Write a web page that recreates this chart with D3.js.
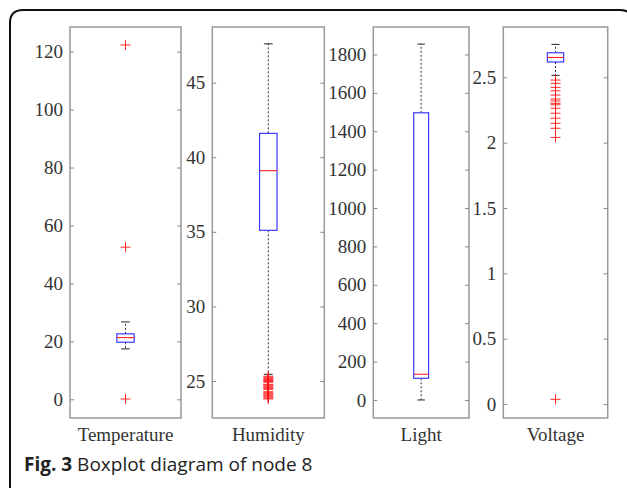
<!DOCTYPE html>
<html><head><meta charset="utf-8">
<script src="https://cdn.jsdelivr.net/npm/d3@7"></script>
<style>
html,body{margin:0;padding:0;background:#fff;}
svg{display:block;}
</style></head>
<body>
<script>
// ---- data ----
const categories = ["Temperature", "Humidity", "Light", "Voltage"];
const whiskerLow  = [17.4, 25.45, 0, 2.515];
const quartile1   = [19.7, 35.1, 113, 2.617];
const medians     = [21.3, 39.1, 134, 2.652];
const quartile3   = [22.6, 41.6, 1496, 2.688];
const whiskerHigh = [26.7, 47.6, 1854, 2.752];
const outliersTemperature = [122.3, 52.5, 0.1];
const outliersHumidity = [25.32, 25.25, 25.18, 25.11, 25.04, 24.97, 24.92,
  24.78, 24.72, 24.65, 24.58, 24.51, 24.44,
  24.28, 24.21, 24.14, 24.07, 24.0, 23.93, 23.86, 23.8];
const outliersLight = [];
const outliersVoltage = [2.479, 2.454, 2.423, 2.397, 2.364, 2.334, 2.319, 2.301,
  2.29, 2.263, 2.225, 2.187, 2.148, 2.110, 2.040, 0.036];
const outliers = [outliersTemperature, outliersHumidity, outliersLight, outliersVoltage];
const yDomains = [[-6.45, 128.5], [22.52, 48.73], [-94, 1943], [-0.107, 2.885]];
const tickLabels = [
  [0, 20, 40, 60, 80, 100, 120],
  [25, 30, 35, 40, 45],
  [0, 200, 400, 600, 800, 1000, 1200, 1400, 1600, 1800],
  [0, 0.5, 1, 1.5, 2, 2.5]
];
const caption = ["Fig. 3", " Boxplot diagram of node 8"];

// ---- layout ----
const W = 627, H = 488;
const panelX = [[70, 181], [212.3, 324.3], [373.3, 469], [503.3, 607.7]];
const panelTop = 27, panelBottom = 418;

const svg = d3.select("body").append("svg").attr("width", W).attr("height", H);

// outer frame (rounded)
svg.append("path")
  .attr("d", "M10,490 V23 Q10,10 23,10 H620 Q633,10 633,23")
  .attr("fill", "none").attr("stroke", "#111").attr("stroke-width", 2);

categories.forEach((cat, i) => {
  const [x0, x1] = panelX[i];
  const y = d3.scaleLinear().domain(yDomains[i]).range([panelBottom, panelTop]);
  const g = svg.append("g");

  // panel frame
  g.append("rect").attr("x", x0).attr("y", panelTop)
    .attr("width", x1 - x0).attr("height", panelBottom - panelTop)
    .attr("fill", "#fff").attr("stroke", "#999").attr("stroke-width", 1.5);

  const fmt = d => String(d);
  const left = g.append("g").attr("transform", `translate(${x0},0)`)
    .call(d3.axisLeft(y).tickValues(tickLabels[i]).tickFormat(fmt).tickSize(-4).tickPadding(7).tickSizeOuter(0));
  const right = g.append("g").attr("transform", `translate(${x1},0)`)
    .call(d3.axisRight(y).tickValues(tickLabels[i]).tickFormat("").tickSize(-4).tickSizeOuter(0));
  [left, right].forEach(a => {
    a.select(".domain").remove();
    a.selectAll(".tick line").attr("stroke", "#888").attr("stroke-width", 1);
  });
  left.selectAll(".tick text")
    .attr("font-family", "'Liberation Serif', 'Times New Roman', serif")
    .attr("font-size", 19).attr("fill", "#333");

  const cx = (x0 + x1) / 2;
  const bw = (x1 - x0) * 0.156;
  const cw = bw / 2;

  // whiskers (dotted)
  g.append("line").attr("x1", cx).attr("x2", cx)
    .attr("y1", y(quartile3[i])).attr("y2", y(whiskerHigh[i]))
    .attr("stroke", "#333").attr("stroke-width", 1).attr("stroke-dasharray", "2,2");
  g.append("line").attr("x1", cx).attr("x2", cx)
    .attr("y1", y(quartile1[i])).attr("y2", y(whiskerLow[i]))
    .attr("stroke", "#333").attr("stroke-width", 1).attr("stroke-dasharray", "2,2");
  // caps
  [whiskerHigh[i], whiskerLow[i]].forEach(v => {
    g.append("line").attr("x1", cx - cw / 2).attr("x2", cx + cw / 2)
      .attr("y1", y(v)).attr("y2", y(v)).attr("stroke", "#222").attr("stroke-width", 1);
  });
  // box
  g.append("rect").attr("x", cx - bw / 2).attr("y", y(quartile3[i]))
    .attr("width", bw).attr("height", y(quartile1[i]) - y(quartile3[i]))
    .attr("fill", "none").attr("stroke", "#3a3aff").attr("stroke-width", 1.2);
  // median
  g.append("line").attr("x1", cx - bw / 2).attr("x2", cx + bw / 2)
    .attr("y1", y(medians[i])).attr("y2", y(medians[i]))
    .attr("stroke", "#ff2020").attr("stroke-width", 1.1);
  // outliers
  const s = 5;
  g.selectAll("path.out").data(outliers[i]).enter().append("path")
    .attr("class", "out")
    .attr("d", d => `M${cx - s},${y(d)}H${cx + s}M${cx},${y(d) - s}V${y(d) + s}`)
    .attr("stroke", "#ff1010").attr("stroke-width", 0.9).attr("fill", "none");

  // x label
  g.append("text").attr("x", cx).attr("y", 441).attr("text-anchor", "middle")
    .attr("font-family", "'Liberation Serif', 'Times New Roman', serif")
    .attr("font-size", 19).attr("fill", "#333").text(cat);
});

// caption
const cap = svg.append("text").attr("x", 24).attr("y", 471)
  .attr("font-family", "'Open Sans', 'Noto Sans', sans-serif").attr("font-size", 19).attr("fill", "#222");
cap.append("tspan").attr("font-weight", "bold").text(caption[0]);
cap.append("tspan").text(caption[1]);
</script>
</body></html>
